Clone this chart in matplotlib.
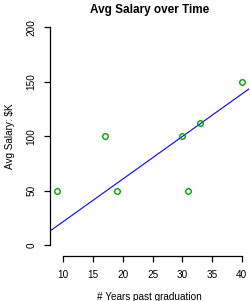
import matplotlib
matplotlib.use("Agg")
import matplotlib.pyplot as plt

years = [9, 17, 19, 30, 31, 33, 40]
salary = [50, 100, 50, 100, 50, 112, 150]
fit_intercept = -17.2
fit_slope = 3.9
xticks = [10, 15, 20, 25, 30, 35, 40]
yticks = [0, 50, 100, 150, 200]

plt.rcParams['font.family'] = ['Liberation Sans', 'DejaVu Sans']

fig = plt.figure(figsize=(2.5, 3.01), dpi=100)
ax = fig.add_axes([50/250, 47/301, 199.2/250, 235.4/301])

xr = max(years) - min(years)
ax.set_xlim(min(years) - 0.04*xr, max(years) + 0.04*xr)
ax.set_ylim(-8, 208)

ax.axline((0, fit_intercept), slope=fit_slope, color='#0000ff', lw=0.8)
ax.plot(years, salary, 'o', mfc='none', mec='#00a000', ms=4, mew=1.0, clip_on=False)

for s in ['top', 'right']:
    ax.spines[s].set_visible(False)
ax.spines['left'].set_bounds(0, 200)
ax.spines['bottom'].set_bounds(10, 40)
ax.spines['bottom'].set_position(('outward', 1.5))
for s in ['left', 'bottom']:
    ax.spines[s].set_linewidth(0.9)

ax.set_xticks(xticks)
ax.set_yticks(yticks)
ax.tick_params(direction='out', length=4.3, width=0.9, labelsize=7.2, pad=5.5)
for lab in ax.get_yticklabels():
    lab.set_rotation(90)
    lab.set_va('center')

ax.set_title('Avg Salary over Time', fontsize=8.5, fontweight='bold', pad=4)
ax.set_xlabel('# Years past graduation', fontsize=7.2, labelpad=8.5)
ax.set_ylabel('Avg Salary: $K', fontsize=7.2, labelpad=8.5)

fig.savefig('out.png', dpi=100)
